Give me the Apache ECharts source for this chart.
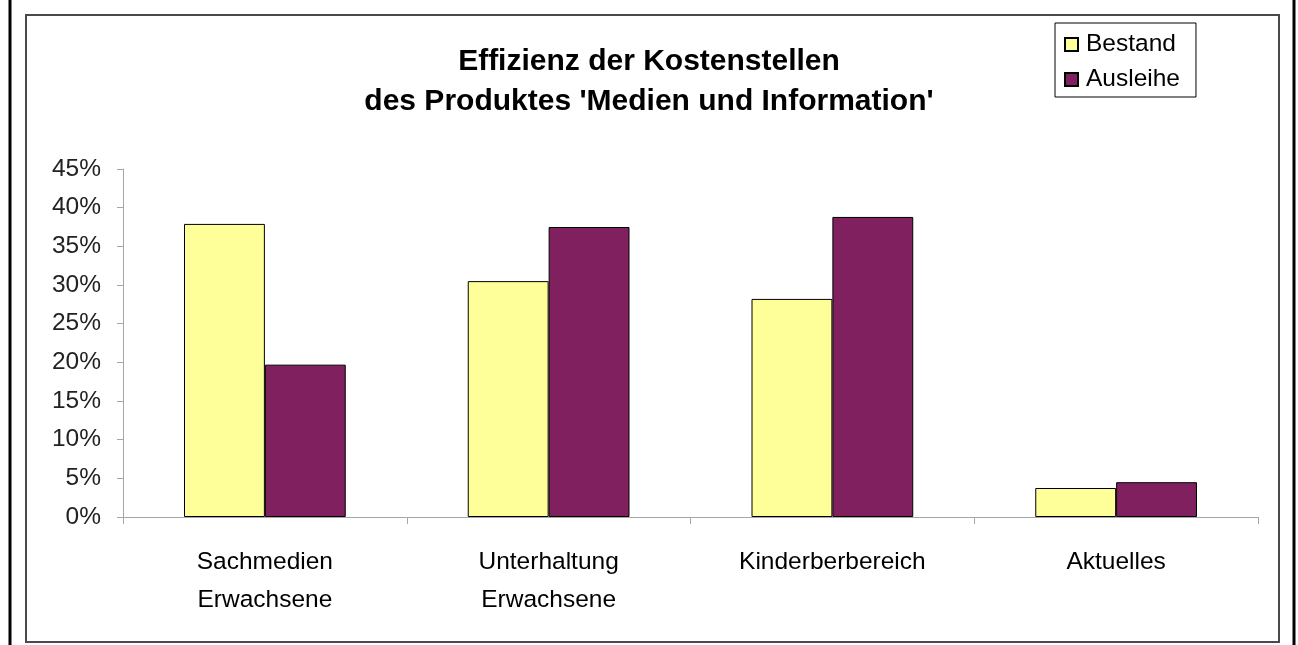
<!DOCTYPE html>
<html>
<head>
<meta charset="utf-8">
<script src="https://cdn.jsdelivr.net/npm/echarts@6/dist/echarts.min.js"></script>
<style>
html,body{margin:0;padding:0;background:#fff;}
#chart{width:1298px;height:645px;}
</style>
</head>
<body>
<div id="chart"></div>
<script>
const categories = ['Sachmedien\nErwachsene', 'Unterhaltung\nErwachsene', 'Kinderberbereich', 'Aktuelles'];
const bestand = [0.379, 0.305, 0.282, 0.0375];
const ausleihe = [0.197, 0.375, 0.388, 0.045];
const seriesNames = ['Bestand', 'Ausleihe'];
const titleText = "Effizienz der Kostenstellen\ndes Produktes 'Medien und Information'";

const FONT = '"Liberation Sans", Arial, sans-serif';
const chart = echarts.init(document.getElementById('chart'), null, {renderer: 'canvas'});
chart.setOption({
  animation: false,
  backgroundColor: '#fff',
  textStyle: {fontFamily: FONT},
  title: {
    text: titleText,
    left: 'center',
    top: 42,
    padding: [0, 0, 0, 6],
    textStyle: {fontFamily: FONT, fontSize: 30, fontWeight: 'bold', color: '#000', lineHeight: 40}
  },
  legend: {
    orient: 'vertical',
    left: 1055,
    top: 23,
    padding: [9, 16, 5, 9],
    itemGap: 10,
    itemWidth: 13,
    itemHeight: 13,
    icon: 'rect',
    borderColor: '#000',
    borderWidth: 1,
    textStyle: {fontFamily: FONT, fontSize: 24.5, color: '#000', padding: [0, 0, 0, 3]},
    data: seriesNames
  },
  graphic: [
    {type: 'rect', shape: {x: 26, y: 15, width: 1253, height: 627}, style: {fill: 'none', stroke: '#4a4a4a', lineWidth: 2}, silent: true},
    {type: 'line', shape: {x1: 10, y1: 0, x2: 10, y2: 645}, style: {stroke: '#000', lineWidth: 3}, silent: true},
    {type: 'line', shape: {x1: 1294, y1: 0, x2: 1294, y2: 645}, style: {stroke: '#000', lineWidth: 3}, silent: true}
  ],
  grid: {left: 123, right: 40, top: 169, bottom: 128, containLabel: false},
  xAxis: {
    type: 'category',
    data: categories,
    axisLine: {lineStyle: {color: '#a6a6a6', width: 1}},
    axisTick: {show: true, alignWithLabel: false, length: 7, lineStyle: {color: '#a6a6a6'}},
    axisLabel: {fontFamily: FONT, fontSize: 24.5, color: '#000', margin: 26, lineHeight: 38, interval: 0}
  },
  yAxis: {
    type: 'value',
    min: 0,
    max: 0.45,
    interval: 0.05,
    axisLine: {show: true, lineStyle: {color: '#a6a6a6', width: 1}},
    axisTick: {show: true, length: 6, lineStyle: {color: '#a6a6a6'}},
    splitLine: {show: false},
    axisLabel: {fontFamily: FONT, fontSize: 24.5, color: '#222', margin: 22,
      formatter: v => Math.round(v * 100) + '%'}
  },
  series: [
    {name: seriesNames[0], type: 'bar', data: bestand, barGap: '0%', barCategoryGap: '43%',
     itemStyle: {color: '#FFFF99', borderColor: '#000', borderWidth: 1}},
    {name: seriesNames[1], type: 'bar', data: ausleihe, barGap: '0%', barCategoryGap: '43%',
     itemStyle: {color: '#80205E', borderColor: '#000', borderWidth: 1}}
  ]
});
</script>
</body>
</html>
